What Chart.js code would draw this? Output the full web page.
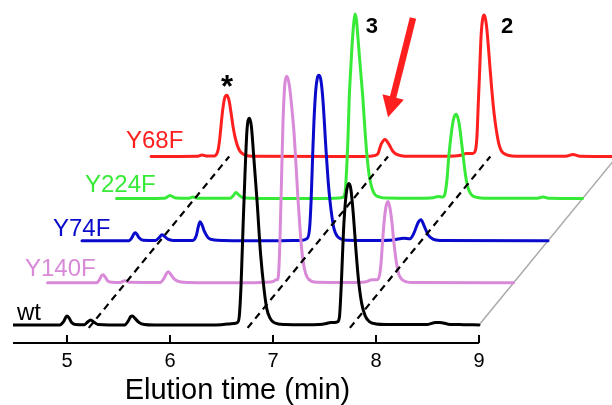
<!DOCTYPE html>
<html>
<head>
<meta charset="utf-8">
<script src="https://cdn.jsdelivr.net/npm/chart.js@4.4.0/dist/chart.umd.min.js"></script>
<style>
  html, body { margin: 0; padding: 0; background: #fff; }
  #wrap { width: 612px; height: 405px; }
</style>
</head>
<body>
<div id="wrap"><canvas id="chart" width="612" height="405"></canvas></div>
<script>
// traces: [elution time (min), signal above own baseline]
const wt = [
  [4.476, 0], [4.93, 0], [4.965, 3], [4.985, 7], [5.00, 9], [5.02, 7], [5.045, 2.5], [5.08, 0.5],
  [5.17, 0.3], [5.20, 3], [5.23, 5], [5.26, 3], [5.30, 0.5],
  [5.56, 0], [5.595, 4], [5.62, 8.5], [5.635, 9], [5.66, 6.5], [5.70, 2.5], [5.75, 0.5],
  [5.85, 0], [6.2, 0], [6.5, 0.3], [6.56, 1], [6.62, 1.5], [6.655, 2.5],
  [6.672, 8], [6.69, 40], [6.71, 100], [6.728, 150], [6.748, 195], [6.77, 206], [6.79, 198],
  [6.815, 165], [6.845, 124], [6.88, 70], [6.915, 34], [6.94, 16], [6.97, 7], [7.00, 3], [7.05, 1], [7.12, 0.5],
  [7.3, 0.3], [7.45, 0.5], [7.52, 1.5], [7.56, 2.5], [7.6, 2.5], [7.625, 3],
  [7.645, 8], [7.665, 45], [7.685, 95], [7.71, 130], [7.735, 141], [7.755, 136], [7.78, 110],
  [7.805, 75], [7.83, 45], [7.86, 22], [7.895, 9], [7.94, 3], [8.0, 1], [8.1, 0.5],
  [8.5, 0.5], [8.58, 2.5], [8.62, 2.5], [8.7, 0.8], [8.85, 0.3], [9.0, 0]
];
const y140f = [
  [4.476, 0], [4.95, 0], [4.98, 3], [5.0, 7], [5.015, 8], [5.035, 6], [5.06, 2], [5.1, 0.5],
  [5.18, 0.3], [5.228, 2], [5.28, 0.5],
  [5.57, 0.3], [5.61, 5], [5.635, 10], [5.65, 11], [5.675, 8], [5.71, 3.5], [5.76, 1], [5.85, 0.3],
  [6.3, 0], [6.6, 0.5], [6.67, 1.5], [6.695, 3], [6.71, 3],
  [6.725, 20], [6.743, 83], [6.762, 160], [6.782, 200], [6.801, 206], [6.825, 196], [6.85, 172],
  [6.869, 150], [6.89, 115], [6.908, 83], [6.93, 50], [6.947, 30], [6.97, 14], [6.995, 6], [7.04, 1.5], [7.1, 0.5],
  [7.4, 0.3], [7.56, 0.8], [7.626, 3], [7.675, 3], [7.70, 8], [7.714, 20], [7.728, 40], [7.743, 60],
  [7.762, 76], [7.782, 81], [7.80, 75], [7.82, 60], [7.835, 44], [7.85, 30], [7.87, 16], [7.888, 8],
  [7.92, 3], [7.96, 1], [8.03, 0.3], [9.0, 0]
];
const y74f = [
  [4.476, 0], [4.93, 0], [4.96, 3], [4.978, 6.5], [4.99, 8], [5.005, 7], [5.03, 3], [5.07, 0.5],
  [5.19, 0.3], [5.225, 3], [5.252, 6], [5.275, 4.5], [5.31, 1.5], [5.36, 0.3],
  [5.55, 0.3], [5.585, 5], [5.605, 14], [5.621, 19], [5.64, 16], [5.665, 9], [5.70, 3], [5.76, 0.8], [5.85, 0.3],
  [6.3, 0], [6.6, 0.3], [6.66, 2], [6.685, 12], [6.70, 40], [6.715, 85], [6.728, 120], [6.745, 150],
  [6.76, 162], [6.777, 165], [6.795, 160], [6.815, 140], [6.845, 90], [6.865, 60], [6.883, 40],
  [6.905, 22], [6.922, 12], [6.95, 5], [6.985, 2], [7.04, 0.5],
  [7.3, 0.3], [7.5, 0.8], [7.60, 2.5], [7.66, 2], [7.70, 8], [7.738, 18], [7.767, 21], [7.796, 15],
  [7.835, 6], [7.883, 1.5], [7.95, 0.3], [9.0, 0]
];
const y224f = [
  [4.476, 0], [4.94, 0.3], [4.995, 3], [5.05, 0.5], [5.18, 0.3], [5.218, 1.5], [5.26, 0.3],
  [5.58, 0.3], [5.61, 3], [5.636, 6], [5.66, 4], [5.70, 1], [5.78, 0.3],
  [6.3, 0], [6.6, 0.3], [6.67, 1], [6.695, 6], [6.71, 30], [6.723, 60], [6.735, 100], [6.75, 130],
  [6.762, 152], [6.778, 174], [6.791, 184], [6.805, 178], [6.82, 160], [6.845, 128], [6.869, 98],
  [6.89, 65], [6.908, 42], [6.925, 26], [6.94, 17], [6.96, 9], [6.985, 4], [7.03, 1.5], [7.1, 0.5],
  [7.4, 0.3], [7.55, 0.8], [7.597, 2], [7.64, 1.5], [7.665, 5], [7.685, 20], [7.70, 40], [7.72, 60],
  [7.745, 78], [7.772, 84], [7.80, 76], [7.83, 52], [7.859, 27], [7.88, 14], [7.898, 8], [7.93, 3],
  [7.98, 1], [8.05, 0.3], [8.55, 0.3], [8.617, 1.5], [8.68, 0.3], [9.0, 0]
];
const y68f = [
  [4.476, 0], [4.93, 0.3], [4.97, 1.5], [5.01, 0.5],
  [5.09, 0.5], [5.126, 6], [5.14, 15], [5.155, 30], [5.17, 45], [5.19, 58], [5.214, 61], [5.235, 55],
  [5.255, 42], [5.272, 30], [5.29, 20], [5.311, 12], [5.335, 6], [5.36, 3], [5.40, 1], [5.46, 0.3],
  [6.3, 0], [6.6, 0.3], [6.641, 0.8], [6.68, 3], [6.709, 12], [6.748, 17], [6.786, 12], [6.825, 5],
  [6.874, 1.5], [6.94, 0.3],
  [7.3, 0.3], [7.45, 0.8], [7.495, 1.5], [7.534, 3], [7.60, 3], [7.625, 6], [7.64, 20], [7.652, 50],
  [7.668, 90], [7.68, 120], [7.695, 137], [7.709, 141], [7.723, 137], [7.738, 125], [7.758, 100],
  [7.777, 75], [7.797, 52], [7.816, 35], [7.835, 22], [7.854, 12], [7.875, 6], [7.903, 3], [7.95, 1],
  [8.02, 0.3], [8.5, 0.3], [8.573, 2], [8.64, 0.3], [9.0, 0]
];

// front to back
const samples = ['wt', 'Y140F', 'Y74F', 'Y224F', 'Y68F'];
const traces = [wt, y140f, y74f, y224f, y68f];
// retention times joined by the dashed guide lines
const guideTimes = [5.235, 6.777, 7.77];
const tickValues = [5, 6, 7, 8, 9];
const peakMarks = ['*', '3', '2'];

// waterfall step between stacked traces
const stepX = 0.335;
const stepY = 42;
const colors = ['#000000', '#d88ad8', '#0a0acd', '#38ea38', '#ff1f1f'];
const FONT = "'Liberation Sans', Arial, sans-serif";

const datasets = [];
traces.forEach((tr, i) => {
  datasets.push({
    label: samples[i],
    data: tr.map(p => ({ x: p[0] + i * stepX, y: p[1] + i * stepY })),
    borderColor: colors[i],
    borderWidth: 3,
    cubicInterpolationMode: 'monotone',
    borderJoinStyle: 'round',
    borderCapStyle: 'round',
    order: i
  });
});
guideTimes.forEach(t => {
  datasets.push({
    data: [{ x: t - 0.07 * stepX, y: -0.07 * stepY }, { x: t + 4 * stepX, y: 4 * stepY }],
    borderColor: '#000',
    borderWidth: 2.2,
    borderDash: [7, 5],
    order: -1
  });
});
// grey edge joining trace ends
datasets.push({
  data: [{ x: 9, y: 0 }, { x: 9 + 4 * stepX, y: 4 * stepY }],
  borderColor: '#aaaaaa',
  borderWidth: 1.5,
  order: 10
});

// text and arrow positions, in plot units (x: min on wt axis, y: signal)
const labelPos = [[4.515, 5], [4.592, 49], [4.864, 89], [5.175, 133], [5.573, 176]];
const markPos = [[6.555, 227, 31], [7.961, 291, 22], [9.272, 291, 22]];
const arrow = { tail: [8.359, 306], tip: [8.117, 207] };

const decor = {
  id: 'decor',
  afterDatasetsDraw(chart) {
    const { ctx, scales: { x, y }, chartArea } = chart;
    const px = v => x.getPixelForValue(v);
    const py = v => y.getPixelForValue(v);
    ctx.save();

    // axis line with inward ticks
    const ay = chartArea.bottom;
    ctx.strokeStyle = '#000';
    ctx.lineWidth = 2;
    ctx.beginPath();
    ctx.moveTo(px(x.min), ay);
    ctx.lineTo(px(9), ay);
    tickValues.forEach(v => {
      ctx.moveTo(px(v), ay);
      ctx.lineTo(px(v), ay - 8);
    });
    ctx.stroke();

    // axis title
    ctx.fillStyle = '#000';
    ctx.font = '29px ' + FONT;
    ctx.textAlign = 'center';
    ctx.textBaseline = 'alphabetic';
    ctx.fillText('Elution time (min)', px(6.655), py(-74));

    // sample labels
    ctx.textAlign = 'left';
    ctx.font = '24px ' + FONT;
    samples.forEach((s, i) => {
      ctx.fillStyle = colors[i];
      ctx.fillText(s, px(labelPos[i][0]), py(labelPos[i][1]));
    });

    // peak marks
    ctx.fillStyle = '#000';
    ctx.textAlign = 'center';
    peakMarks.forEach((m, i) => {
      ctx.font = 'bold ' + markPos[i][2] + 'px ' + FONT;
      ctx.fillText(m, px(markPos[i][0]), py(markPos[i][1]));
    });

    // red arrow
    const x0 = px(arrow.tail[0]), y0 = py(arrow.tail[1]);
    const x1 = px(arrow.tip[0]), y1 = py(arrow.tip[1]);
    const ang = Math.atan2(y1 - y0, x1 - x0);
    const headLen = 21, headHalf = 11;
    const bx = x1 - headLen * Math.cos(ang), by = y1 - headLen * Math.sin(ang);
    ctx.strokeStyle = '#ff1f1f';
    ctx.fillStyle = '#ff1f1f';
    ctx.lineWidth = 6.5;
    ctx.lineCap = 'butt';
    ctx.beginPath();
    ctx.moveTo(x0, y0);
    ctx.lineTo(bx + 2 * Math.cos(ang), by + 2 * Math.sin(ang));
    ctx.stroke();
    ctx.beginPath();
    ctx.moveTo(x1, y1);
    ctx.lineTo(bx - headHalf * Math.sin(ang), by + headHalf * Math.cos(ang));
    ctx.lineTo(bx + headHalf * Math.sin(ang), by - headHalf * Math.cos(ang));
    ctx.closePath();
    ctx.fill();

    ctx.restore();
  }
};

new Chart(document.getElementById('chart'), {
  type: 'line',
  data: { datasets },
  options: {
    responsive: false,
    animation: false,
    devicePixelRatio: 1,
    elements: { point: { radius: 0 } },
    layout: { padding: { left: 13, right: 0, top: 0, bottom: 34 } },
    plugins: { legend: { display: false }, tooltip: { enabled: false } },
    scales: {
      x: {
        type: 'linear',
        min: 4.476,
        max: 10.291,
        grid: { display: false },
        border: { display: false },
        afterBuildTicks: s => { s.ticks = tickValues.map(v => ({ value: v })); },
        ticks: { color: '#000', padding: -2, font: { family: FONT, size: 20 } }
      },
      y: { display: false, min: -18, max: 324 }
    }
  },
  plugins: [decor]
});
</script>
</body>
</html>
